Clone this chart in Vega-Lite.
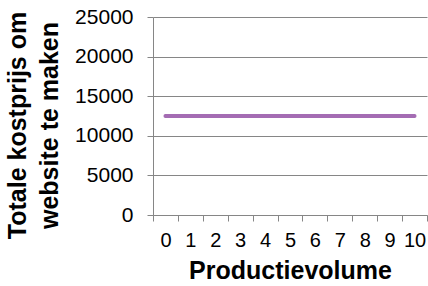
{
  "$schema": "https://vega.github.io/schema/vega-lite/v6.json",
  "autosize": "none",
  "padding": {"left": 153, "top": 17, "right": 1, "bottom": 71},
  "width": 274,
  "height": 198,
  "background": "white",
  "config": {
    "view": {"stroke": null},
    "font": "Liberation Sans"
  },
  "data": {
    "values": [
      {"volume": 0, "kost": 12500},
      {"volume": 1, "kost": 12500},
      {"volume": 2, "kost": 12500},
      {"volume": 3, "kost": 12500},
      {"volume": 4, "kost": 12500},
      {"volume": 5, "kost": 12500},
      {"volume": 6, "kost": 12500},
      {"volume": 7, "kost": 12500},
      {"volume": 8, "kost": 12500},
      {"volume": 9, "kost": 12500},
      {"volume": 10, "kost": 12500}
    ]
  },
  "mark": {"type": "line", "color": "#a46cb3", "strokeWidth": 4, "strokeCap": "round"},
  "encoding": {
    "x": {
      "field": "volume",
      "type": "ordinal",
      "sort": "ascending",
      "scale": {"type": "band", "paddingInner": 0, "paddingOuter": 0},
      "axis": {
        "title": "Productievolume",
        "titleFont": "Liberation Sans",
        "titleFontSize": 25,
        "titleFontWeight": "bold",
        "titleColor": "black",
        "titlePadding": 8,
        "labelAngle": 0,
        "labelFont": "Liberation Sans",
        "labelFontSize": 20,
        "labelColor": "black",
        "labelPadding": 9,
        "tickBand": "extent",
        "tickColor": "#868686",
        "tickSize": 6,
        "domainColor": "#868686",
        "grid": false
      }
    },
    "y": {
      "field": "kost",
      "type": "quantitative",
      "scale": {"domain": [0, 25000], "nice": false},
      "axis": {
        "title": ["Totale kostprijs om", "website te maken"],
        "titleFont": "Liberation Sans",
        "titleFontSize": 25,
        "titleFontWeight": "bold",
        "titleColor": "black",
        "titleLineHeight": 32,
        "titlePadding": 12,
        "titleY": 108,
        "values": [0, 5000, 10000, 15000, 20000, 25000],
        "format": "d",
        "labelFont": "Liberation Sans",
        "labelFontSize": 21,
        "labelColor": "black",
        "labelPadding": 14,
        "tickColor": "#868686",
        "tickSize": 6,
        "domainColor": "#868686",
        "grid": true,
        "gridColor": "#868686",
        "gridOpacity": 1
      }
    }
  }
}
